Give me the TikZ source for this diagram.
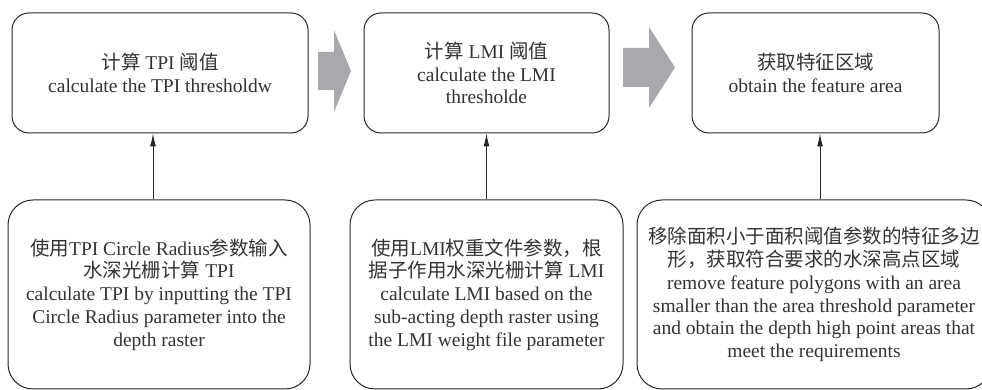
\documentclass[tikz,border=0pt]{standalone}
\usepackage{fontspec}
\setmainfont{Liberation Serif}
\newfontfamily\cjk{Noto Sans CJK SC}
\usepackage{xcolor}
\usepackage{tikz}
\usetikzlibrary{arrows.meta}

\definecolor{arrowgray}{RGB}{168,169,173}
\newcommand{\zh}[1]{{\cjk #1}}
\tikzset{
  box/.style={draw=black!85, line width=1pt, inner sep=0pt, align=center,
    text=black!80, font=\fontsize{19.5pt}{22.7pt}\selectfont},
  topbox/.style={box, rounded corners=17pt, minimum width=#1, minimum height=120pt},
  lowbox/.style={box, rounded corners=25pt, minimum width=#1, minimum height=189pt},
  uparrow/.style={draw=black!85, line width=1pt, -{Latex[length=13pt,width=6pt]}},
  blockarrow/.style={fill=arrowgray}
}

\begin{document}
\begin{tikzpicture}[x=1pt,y=1pt]
  % page 982 x 390, lower row runs off the right and bottom edges
  \clip (0,0) rectangle (982,390);
  \node[topbox=296pt] (t1) at (160,317) {\zh{计算} TPI \zh{阈值}\\calculate the TPI thresholdw};
  \node[topbox=245pt] (t2) at (486.5,317) {\zh{计算} LMI \zh{阈值}\\calculate the LMI\\thresholde};
  \node[topbox=247pt] (t3) at (815.5,317) {\zh{获取特征区域}\\obtain the feature area};
  \node[lowbox=302pt] (b1) at (159,95.5) {\zh{使用}TPI Circle Radius\zh{参数输入}\\\zh{水深光栅计算} TPI\\calculate TPI by inputting the TPI\\Circle Radius parameter into the\\depth raster};
  \node[lowbox=273pt] (b2) at (486.5,95.5) {\zh{使用}LMI\zh{权重文件参数，根}\\\zh{据子作用水深光栅计算} LMI\\calculate LMI based on the\\sub-acting depth raster using\\the LMI weight file parameter};
  \node[lowbox=354pt] (b3) at (814,95.5) {\zh{移除面积小于面积阈值参数的特征多边}\\\zh{形，获取符合要求的水深高点区域}\\remove feature polygons with an area\\smaller than the area threshold parameter\\and obtain the depth high point areas that\\meet the requirements};
  \fill[blockarrow] (318,338) -- (334,338) -- (334,360) -- (351,319) -- (334,278) -- (334,300) -- (318,300) -- cycle;
  \fill[blockarrow] (623,342) -- (649,342) -- (649,363) -- (675,322.5) -- (649,282) -- (649,303) -- (623,303) -- cycle;
  \draw[uparrow] ([xshift=-6pt]b1.north) -- ([xshift=-6pt]b1.north |- t1.south);
  \draw[uparrow] (b2.north) -- (b2.north |- t2.south);
  \draw[uparrow] ([xshift=6pt]b3.north) -- ([xshift=6pt]b3.north |- t3.south);
\end{tikzpicture}
\end{document}
